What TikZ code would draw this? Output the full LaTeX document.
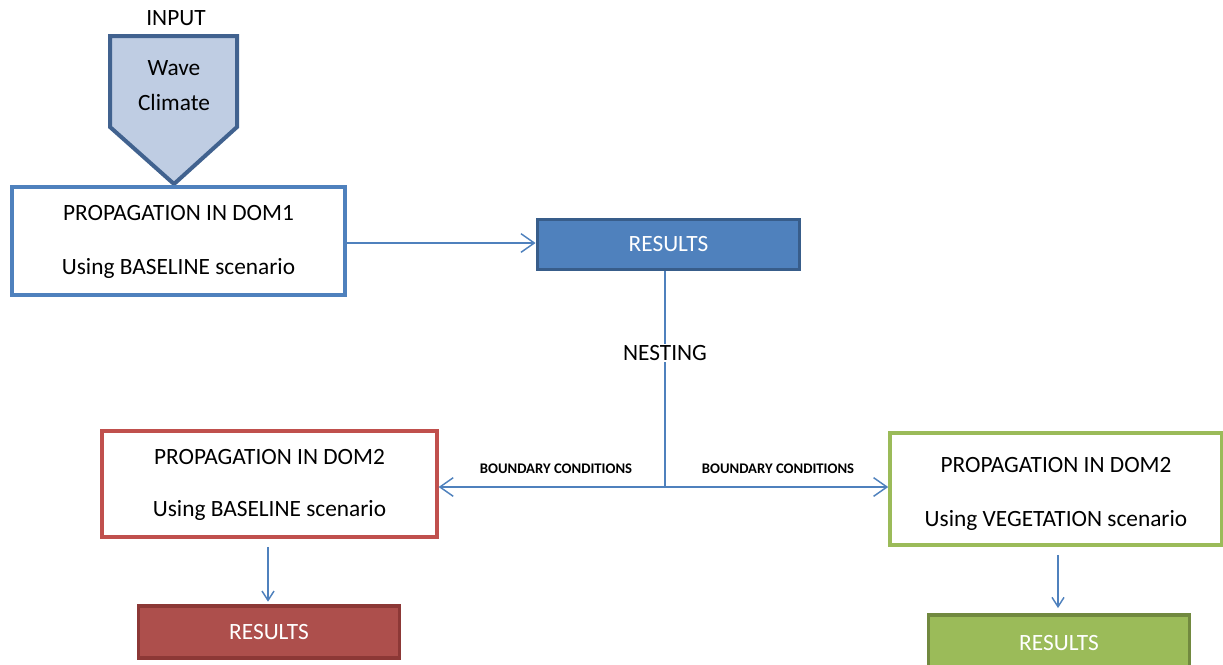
\documentclass[tikz,border=0pt]{standalone}
\usepackage{fontspec}
\setmainfont{Carlito}
\usetikzlibrary{arrows.meta,positioning}
\definecolor{dblue}{HTML}{4F81BD}
\definecolor{dbluedark}{HTML}{385D8A}
\definecolor{inputfill}{HTML}{BFCDE3}
\definecolor{inputline}{HTML}{41628F}
\definecolor{dred}{HTML}{C0504D}
\definecolor{dredfill}{HTML}{AD4F4C}
\definecolor{dreddark}{HTML}{8C3836}
\definecolor{dgreen}{HTML}{9BBB59}
\definecolor{dgreendark}{HTML}{71893F}
\tikzset{
  txt/.style={font=\fontsize{17.5}{21}\selectfont},
  dombox/.style={draw=#1, line width=2.7pt, fill=white, align=center, txt},
  resbox/.style={draw=#1, line width=2.4pt, text=white, txt},
  link/.style={draw=dblue, line width=1.1pt},
  bigtip/.style={-{Straight Barb[length=10pt,width=14pt]}},
  smalltip/.style={-{Straight Barb[length=7pt,width=9pt]}}
}

\begin{document}
\begin{tikzpicture}[x=0.75pt,y=-0.75pt]
  \useasboundingbox (0,0) rectangle (1223,664);
  % input arrow
  \draw[fill=inputfill, draw=inputline, line width=3pt]
    (110,36) -- (237,36) -- (237,127) -- (174,184) -- (110,127) -- cycle;
  \node[txt] (input) at (176,18) {INPUT};
  \node[txt] (wave) at (174,68) {Wave};
  \node[txt] (climate) at (174,102) {Climate};
  % domain 1
  \node[dombox=dblue, minimum width=250pt, minimum height=81pt] (dom1) at (178.5,241) {};
  \node[txt] (dom1a) at (178.5,213) {PROPAGATION IN DOM1};
  \node[txt] (dom1b) at (178.5,268) {Using BASELINE scenario};
  \node[resbox=dbluedark, fill=dblue, minimum width=197pt, minimum height=37pt] (res1) at (668.5,244.5) {RESULTS};
  \draw[link, bigtip] (dom1.east |- 0,243) -- (res1.west |- 0,243);
  % domain 2 baseline
  \node[dombox=dred, minimum width=251pt, minimum height=79.5pt] (dom2a) at (269.5,484) {};
  \node[txt] (dom2aa) at (269.5,457) {PROPAGATION IN DOM2};
  \node[txt] (dom2ab) at (269.5,510) {Using BASELINE scenario};
  \node[resbox=dreddark, fill=dredfill, minimum width=196pt, minimum height=39pt] (res2a) at (269,632) {RESULTS};
  % domain 2 vegetation
  \node[dombox=dgreen, minimum width=249pt, minimum height=84pt] (dom2b) at (1056,489) {};
  \node[txt] (dom2ba) at (1056,465) {PROPAGATION IN DOM2};
  \node[txt] (dom2bb) at (1056,520) {Using VEGETATION scenario};
  \node[resbox=dgreendark, fill=dgreen, minimum width=196pt, minimum height=42pt] (res2b) at (1059,643) {RESULTS};
  % nesting
  \coordinate (split) at (665,487);
  \draw[link] (res1.south -| split) -- (split);
  \node[txt, fill=white, inner sep=1pt] (nest) at (665,353) {NESTING};
  \draw[link, bigtip] (split) -- (dom2a.east |- split);
  \draw[link, bigtip] (split) -- (dom2b.west |- split);
  \node[font=\bfseries\fontsize{11}{13}\selectfont] (bc1) at (556,469) {BOUNDARY CONDITIONS};
  \node[font=\bfseries\fontsize{11}{13}\selectfont] (bc2) at (778,469) {BOUNDARY CONDITIONS};
  \draw[link, smalltip, shorten <=6pt, shorten >=2pt] (dom2a.south -| 268,0) -- (res2a.north -| 268,0);
  \draw[link, smalltip, shorten <=6pt, shorten >=4pt] (dom2b.south -| 1058,0) -- (res2b.north -| 1058,0);
\end{tikzpicture}
\end{document}
